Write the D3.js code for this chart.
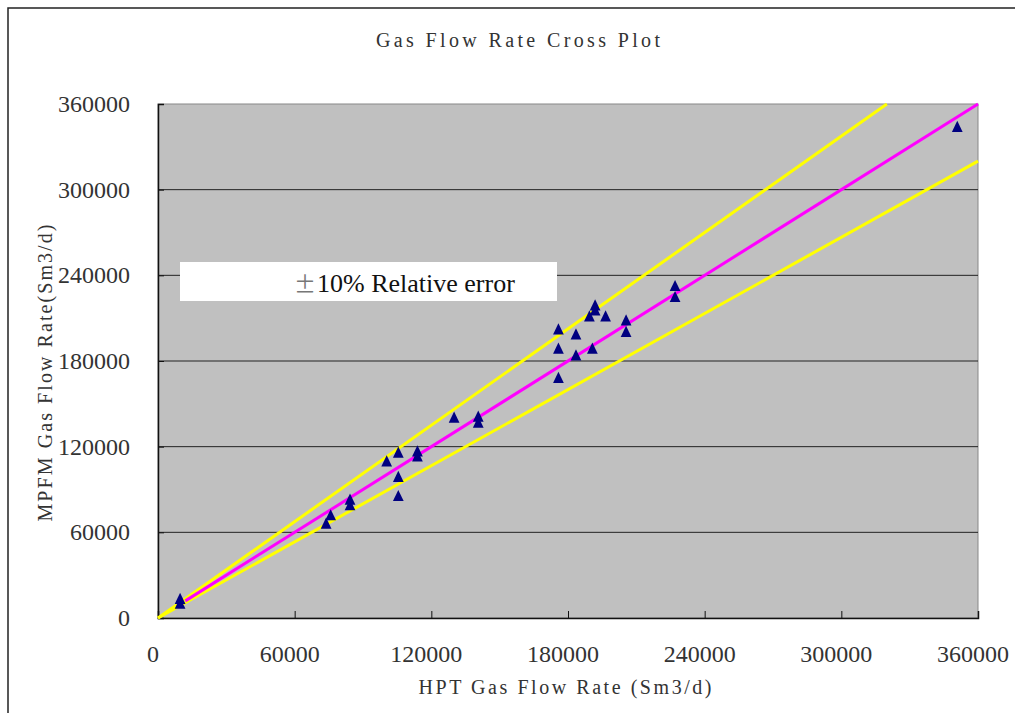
<!DOCTYPE html>
<html>
<head>
<meta charset="utf-8">
<script src="https://cdn.jsdelivr.net/npm/d3@7"></script>
<style>
  body { margin: 0; background: #fff; }
  text, tspan { font-family: "Liberation Serif", serif; }
</style>
</head>
<body>
<svg></svg>
<script>
// HPT (reference) vs MPFM gas flow rate, Sm3/d
const hptRate = [
  9700, 9700, 73800, 75800, 84300, 84300, 100400, 105500, 105500, 105500,
  113900, 113900, 130000, 140600, 140600, 175800, 175800, 175800, 183500, 183500,
  189400, 190700, 191900, 191900, 196500, 205500, 205500, 227000, 227000, 350900
];
const mpfmRate = [
  12500, 9000, 65100, 71000, 82000, 78000, 108800, 114900, 97900, 84500,
  115700, 112200, 139400, 140100, 135900, 201200, 187700, 167200, 197700, 183000,
  210300, 187700, 218000, 214500, 210300, 207500, 199400, 231600, 223900, 343000
];
const axisTicks = [0, 60000, 120000, 180000, 240000, 300000, 360000];

// y = x line and the +/-10% band lines
const oneToOne = [[12000, 12000], [360000, 360000]];
const upperBand = [[0, 0], [320000, 360000]];
const lowerBand = [[0, 0], [360000, 320000]];

const chartTitle = "Gas Flow Rate Cross Plot";
const xTitle = "HPT Gas Flow Rate (Sm3/d)";
const yTitle = "MPFM Gas Flow Rate(Sm3/d)";
const bandLabel = "10% Relative error";

const width = 1015;
const height = 713;
const marginLeft = 158;
const marginRight = 37;
const marginTop = 104;
const marginBottom = 95;

const svg = d3.select("svg").attr("width", width).attr("height", height);

// outer frame
svg.append("rect")
  .attr("x", 8).attr("y", 8)
  .attr("width", width + 10).attr("height", height + 10)
  .attr("fill", "#fff").attr("stroke", "#222").attr("stroke-width", 1.5);

const x = d3.scaleLinear([0, 360000], [marginLeft, width - marginRight]);
const y = d3.scaleLinear([0, 360000], [height - marginBottom, marginTop]);

// plot area
svg.append("rect")
  .attr("x", x(0)).attr("y", y(360000))
  .attr("width", x(360000) - x(0)).attr("height", y(0) - y(360000))
  .attr("fill", "#c0c0c0").attr("stroke", "#888").attr("stroke-width", 1);

// horizontal grid
svg.append("g")
  .selectAll("line")
  .data(axisTicks.slice(1, -1))
  .join("line")
  .attr("x1", x(0)).attr("x2", x(360000))
  .attr("y1", d => y(d)).attr("y2", d => y(d))
  .attr("stroke", "#222").attr("stroke-width", 1);

// axes: ticks point inwards, labels drawn separately
const xAxis = svg.append("g")
  .attr("transform", `translate(0,${y(0)})`)
  .call(d3.axisTop(x).tickValues(axisTicks).tickSize(7).tickFormat(""));
const yAxis = svg.append("g")
  .attr("transform", `translate(${x(0)},0)`)
  .call(d3.axisRight(y).tickValues(axisTicks).tickSize(6).tickFormat(""));
[xAxis, yAxis].forEach(g => {
  g.select(".domain").attr("stroke", "#111").attr("stroke-width", 1.5);
  g.selectAll(".tick line").attr("stroke", "#111");
});

svg.append("g")
  .selectAll("text")
  .data(axisTicks)
  .join("text")
  .attr("x", d => x(d) - 5)
  .attr("y", y(0) + 44)
  .attr("text-anchor", "middle")
  .attr("font-size", 24)
  .attr("fill", "#333")
  .text(d => d);

svg.append("g")
  .selectAll("text")
  .data(axisTicks)
  .join("text")
  .attr("x", x(0) - 28)
  .attr("y", d => y(d) + 8)
  .attr("text-anchor", "end")
  .attr("font-size", 24)
  .attr("fill", "#333")
  .text(d => d);

// reference lines
const line = d3.line().x(d => x(d[0])).y(d => y(d[1]));
[[upperBand, "#ffff00"], [lowerBand, "#ffff00"], [oneToOne, "#ff00ff"]].forEach(([pts, c]) => {
  svg.append("path")
    .attr("d", line(pts))
    .attr("fill", "none")
    .attr("stroke", c)
    .attr("stroke-width", 3);
});

// data points
const tri = d3.symbol(d3.symbolTriangle, 50);
svg.append("g")
  .selectAll("path")
  .data(hptRate.map((d, i) => [d, mpfmRate[i]]))
  .join("path")
  .attr("d", tri)
  .attr("transform", d => `translate(${x(d[0])},${y(d[1])}) scale(1,1.2)`)
  .attr("fill", "#000080");

// band label
svg.append("rect")
  .attr("x", 180).attr("y", 262)
  .attr("width", 377).attr("height", 39)
  .attr("fill", "#fff");
const lbl = svg.append("text")
  .attr("x", 294).attr("y", 292)
  .attr("font-size", 26)
  .attr("fill", "#111");
lbl.append("tspan").attr("fill", "#777").style("font-family", "'Noto Sans CJK SC'").attr("font-size", 22).text("±");
lbl.append("tspan").attr("dx", 1).style("font-family", "'Liberation Serif', serif").text(bandLabel);

// titles
svg.append("text")
  .attr("x", 518).attr("y", 47)
  .attr("text-anchor", "middle")
  .attr("font-size", 20)
  .attr("fill", "#333")
  .attr("textLength", 284).attr("lengthAdjust", "spacing")
  .text(chartTitle);

svg.append("text")
  .attr("x", 565).attr("y", 694)
  .attr("text-anchor", "middle")
  .attr("font-size", 20)
  .attr("fill", "#333")
  .attr("textLength", 293).attr("lengthAdjust", "spacing")
  .text(xTitle);

svg.append("text")
  .attr("transform", "translate(52,373) rotate(-90)")
  .attr("text-anchor", "middle")
  .attr("font-size", 20)
  .attr("fill", "#333")
  .attr("textLength", 297).attr("lengthAdjust", "spacing")
  .text(yTitle);
</script>
</body>
</html>
